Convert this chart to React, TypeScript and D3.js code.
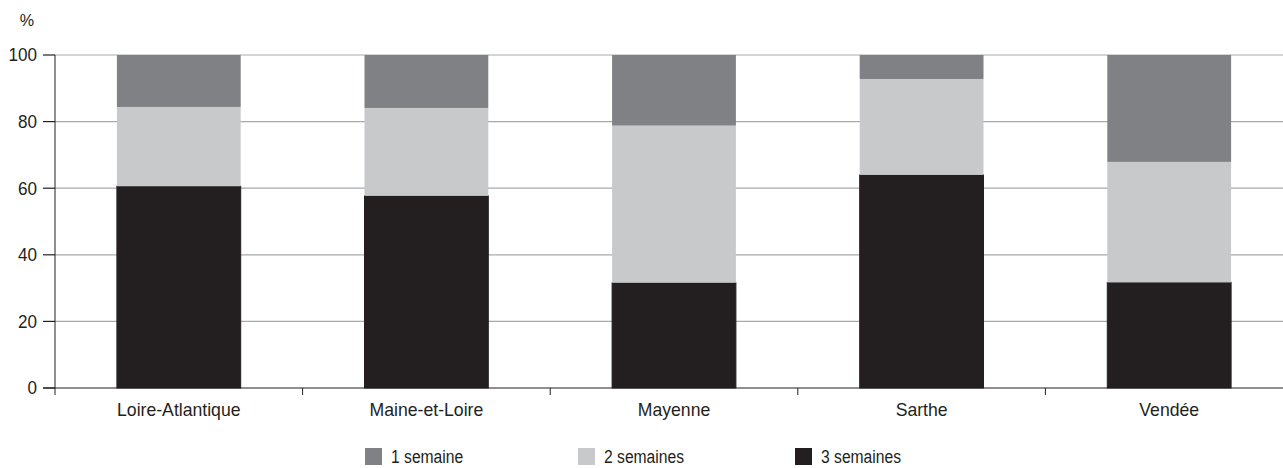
import React from "react";
import * as d3 from "d3";

const categories = ["Loire-Atlantique", "Maine-et-Loire", "Mayenne", "Sarthe", "Vendée"];
const seriesNames = ["3 semaines", "2 semaines", "1 semaine"];
const troisSemaines = [60.6, 57.7, 31.6, 64.0, 31.7];
const deuxSemaines = [23.8, 26.4, 47.2, 28.8, 36.2];
const uneSemaine = [15.6, 15.9, 21.2, 7.2, 32.1];
const yTicks = [0, 20, 40, 60, 80, 100];
const legendOrder = ["1 semaine", "2 semaines", "3 semaines"];

const colors: Record<string, string> = {
  "1 semaine": "#808184",
  "2 semaines": "#c8c9cb",
  "3 semaines": "#231f20",
};

const W = 1283;
const H = 468;
const left = 55;
const top = 55;
const bottom = 388;
const bandEnd = 1293;
const font = "'Liberation Sans', Arial, sans-serif";

function T(props: { x: number; y: number; sx?: number; anchor?: string; size: number; dy?: string; children: any }) {
  const sx = props.sx ?? 1;
  return (
    <text
      transform={`translate(${props.x},${props.y}) scale(${sx},1)`}
      textAnchor={props.anchor ?? "start"}
      fontSize={props.size}
      dy={props.dy}
      fill="#231f20"
    >
      {props.children}
    </text>
  );
}

export default function App() {
  const x = d3.scaleBand<string>().domain(categories).range([left, bandEnd]).paddingInner(0).paddingOuter(0);
  const y = d3.scaleLinear().domain([0, 100]).range([bottom, top]);
  const rows = categories.map((c, i) => ({
    cat: c,
    "3 semaines": troisSemaines[i],
    "2 semaines": deuxSemaines[i],
    "1 semaine": uneSemaine[i],
  }));
  const stack = d3.stack<any>().keys(seriesNames)(rows);
  const bw = x.bandwidth() * 0.5;

  const legendX = [365, 578, 795];

  return (
    <svg width={W} height={H} style={{ position: "absolute", left: 0, top: 0 }} fontFamily={font}>
      {yTicks.filter((t) => t > 0).map((t) => (
        <line key={t} x1={left} x2={W} y1={y(t)} y2={y(t)} stroke="#a7a9ab" strokeWidth={1.2} />
      ))}
      {stack.map((s) => (
        <g key={s.key}>
          {s.map((d, i) => {
            const cx = (x(categories[i]) as number) + x.bandwidth() / 2;
            const isBlack = s.key === "3 semaines";
            return (
              <rect
                key={i}
                x={cx - bw / 2}
                width={bw}
                y={y(d[1])}
                height={y(d[0]) - y(d[1])}
                fill={colors[s.key]}
                stroke={isBlack ? colors[s.key] : "none"}
                strokeWidth={isBlack ? 1 : 0}
              />
            );
          })}
        </g>
      ))}
      <line x1={left} x2={left} y1={top} y2={bottom + 7} stroke="#231f20" strokeWidth={1} />
      <line x1={left - 12} x2={W} y1={bottom} y2={bottom} stroke="#231f20" strokeWidth={1.2} />
      {yTicks.map((t) => (
        <g key={t}>
          <line x1={left - 12} x2={left} y1={y(t)} y2={y(t)} stroke="#231f20" strokeWidth={1.2} />
          <T x={37} y={y(t)} dy="0.36em" anchor="end" size={18} sx={0.95}>
            {t}
          </T>
        </g>
      ))}
      <T x={27} y={26} anchor="middle" size={17} sx={0.95}>%</T>
      {categories.map((c, i) => (
        <g key={c}>
          {i > 0 && (
            <line x1={x(c) as number} x2={x(c) as number} y1={bottom} y2={bottom + 7} stroke="#231f20" strokeWidth={1} />
          )}
          <T x={(x(c) as number) + x.bandwidth() / 2} y={416} anchor="middle" size={18} sx={0.98}>
            {c}
          </T>
        </g>
      ))}
      {legendOrder.map((k, i) => (
        <g key={k}>
          <rect x={legendX[i]} y={448} width={17} height={17} fill={colors[k]} />
          <T x={legendX[i] + 26} y={463} size={18} sx={0.87}>
            {k}
          </T>
        </g>
      ))}
    </svg>
  );
}
